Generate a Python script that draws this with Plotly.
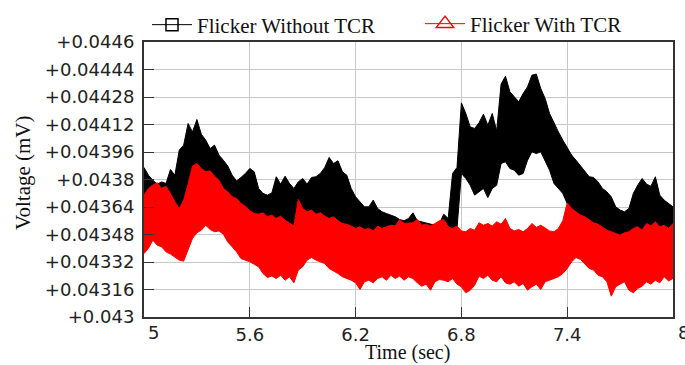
import plotly.graph_objects as go

# Sample times (s): envelope readings every 25 ms
time_s = [round(5.0 + 0.025 * i, 3) for i in range(121)]

# Flicker without TCR: upper / lower envelope of the noisy voltage (mV)
no_tcr_upper = [
    0.043870, 0.043825, 0.043796, 0.043773, 0.043786, 0.043777, 0.043858, 0.043825, 0.043971, 0.044000,
    0.044126, 0.044077, 0.044149, 0.044064, 0.044029, 0.043980, 0.044000, 0.043942, 0.043912, 0.043878,
    0.043825, 0.043792, 0.043812, 0.043835, 0.043864, 0.043845, 0.043748, 0.043719, 0.043709, 0.043722,
    0.043816, 0.043773, 0.043819, 0.043777, 0.043748, 0.043786, 0.043806, 0.043773, 0.043812, 0.043816,
    0.043835, 0.043870, 0.043928, 0.043893, 0.043909, 0.043845, 0.043825, 0.043748, 0.043699, 0.043670,
    0.043641, 0.043641, 0.043680, 0.043631, 0.043612, 0.043602, 0.043593, 0.043583, 0.043567, 0.043560,
    0.043573, 0.043606, 0.043560, 0.043554, 0.043548, 0.043540, 0.043534, 0.043544, 0.043598, 0.043573,
    0.043835, 0.043870, 0.044246, 0.044184, 0.044106, 0.044097, 0.044130, 0.044180, 0.044116, 0.044184,
    0.044083, 0.044355, 0.044401, 0.044310, 0.044281, 0.044252, 0.044300, 0.044339, 0.044407, 0.044413,
    0.044329, 0.044271, 0.044184, 0.044126, 0.044077, 0.044029, 0.043986, 0.043942, 0.043912, 0.043878,
    0.043845, 0.043816, 0.043812, 0.043786, 0.043748, 0.043728, 0.043699, 0.043641, 0.043622, 0.043612,
    0.043631, 0.043719, 0.043767, 0.043806, 0.043773, 0.043761, 0.043816, 0.043709, 0.043680, 0.043660,
    0.043641,
]
no_tcr_lower = [
    0.043631, 0.043670, 0.043689, 0.043703, 0.043670, 0.043683, 0.043641, 0.043592, 0.043553, 0.043602,
    0.043695, 0.043800, 0.043815, 0.043786, 0.043767, 0.043772, 0.043741, 0.043718, 0.043670, 0.043650,
    0.043621, 0.043611, 0.043582, 0.043567, 0.043540, 0.043524, 0.043520, 0.043528, 0.043505, 0.043515,
    0.043495, 0.043509, 0.043485, 0.043466, 0.043451, 0.043606, 0.043553, 0.043534, 0.043544, 0.043520,
    0.043528, 0.043509, 0.043495, 0.043505, 0.043482, 0.043466, 0.043462, 0.043451, 0.043437, 0.043447,
    0.043431, 0.043437, 0.043423, 0.043451, 0.043437, 0.043447, 0.043456, 0.043451, 0.043489, 0.043466,
    0.043470, 0.043470, 0.043489, 0.043456, 0.043462, 0.043451, 0.043466, 0.043482, 0.043489, 0.043447,
    0.043505, 0.043515, 0.043835, 0.043806, 0.043767, 0.043709, 0.043728, 0.043748, 0.043695, 0.043748,
    0.043767, 0.043893, 0.043903, 0.043864, 0.043854, 0.043825, 0.043835, 0.043912, 0.043961, 0.043951,
    0.043961, 0.043903, 0.043854, 0.043777, 0.043748, 0.043719, 0.043660, 0.043583, 0.043544, 0.043525,
    0.043505, 0.043496, 0.043486, 0.043476, 0.043466, 0.043457, 0.043447, 0.043437, 0.043432, 0.043437,
    0.043447, 0.043457, 0.043466, 0.043447, 0.043466, 0.043457, 0.043476, 0.043466, 0.043457, 0.043447,
    0.043466,
]

# Flicker with TCR: upper / lower envelope (mV)
tcr_upper = [
    0.043709, 0.043748, 0.043767, 0.043781, 0.043748, 0.043761, 0.043719, 0.043670, 0.043631, 0.043680,
    0.043773, 0.043878, 0.043893, 0.043864, 0.043845, 0.043850, 0.043819, 0.043796, 0.043748, 0.043728,
    0.043699, 0.043689, 0.043660, 0.043645, 0.043618, 0.043602, 0.043598, 0.043606, 0.043583, 0.043593,
    0.043573, 0.043587, 0.043563, 0.043544, 0.043529, 0.043684, 0.043631, 0.043612, 0.043622, 0.043598,
    0.043606, 0.043587, 0.043573, 0.043583, 0.043560, 0.043544, 0.043540, 0.043529, 0.043515, 0.043525,
    0.043509, 0.043515, 0.043501, 0.043529, 0.043515, 0.043525, 0.043534, 0.043529, 0.043567, 0.043544,
    0.043548, 0.043548, 0.043567, 0.043534, 0.043540, 0.043529, 0.043544, 0.043560, 0.043567, 0.043525,
    0.043515, 0.043529, 0.043501, 0.043496, 0.043515, 0.043505, 0.043548, 0.043534, 0.043544, 0.043529,
    0.043554, 0.043540, 0.043573, 0.043515, 0.043501, 0.043509, 0.043496, 0.043515, 0.043544, 0.043521,
    0.043534, 0.043515, 0.043501, 0.043496, 0.043515, 0.043560, 0.043664, 0.043631, 0.043612, 0.043593,
    0.043583, 0.043563, 0.043548, 0.043540, 0.043525, 0.043505, 0.043496, 0.043486, 0.043476, 0.043490,
    0.043496, 0.043515, 0.043525, 0.043505, 0.043544, 0.043529, 0.043554, 0.043525, 0.043534, 0.043515,
    0.043544,
]
tcr_lower = [
    0.043369, 0.043399, 0.043447, 0.043418, 0.043408, 0.043379, 0.043366, 0.043346, 0.043331, 0.043325,
    0.043393, 0.043457, 0.043490, 0.043505, 0.043534, 0.043509, 0.043496, 0.043501, 0.043482, 0.043437,
    0.043408, 0.043379, 0.043340, 0.043331, 0.043321, 0.043307, 0.043292, 0.043253, 0.043230, 0.043238,
    0.043224, 0.043243, 0.043214, 0.043234, 0.043199, 0.043273, 0.043292, 0.043331, 0.043346, 0.043331,
    0.043321, 0.043311, 0.043282, 0.043269, 0.043253, 0.043234, 0.043224, 0.043214, 0.043199, 0.043160,
    0.043205, 0.043214, 0.043199, 0.043224, 0.043234, 0.043214, 0.043243, 0.043224, 0.043238, 0.043214,
    0.043234, 0.043224, 0.043199, 0.043179, 0.043191, 0.043156, 0.043205, 0.043218, 0.043214, 0.043205,
    0.043224, 0.043191, 0.043176, 0.043141, 0.043156, 0.043185, 0.043238, 0.043224, 0.043243, 0.043214,
    0.043205, 0.043234, 0.043199, 0.043191, 0.043205, 0.043179, 0.043195, 0.043156, 0.043176, 0.043191,
    0.043160, 0.043205, 0.043214, 0.043224, 0.043234, 0.043253, 0.043282, 0.043321, 0.043346, 0.043335,
    0.043307, 0.043282, 0.043273, 0.043243, 0.043234, 0.043205, 0.043121, 0.043176, 0.043191, 0.043205,
    0.043156, 0.043141, 0.043166, 0.043179, 0.043205, 0.043191, 0.043214, 0.043199, 0.043234, 0.043210,
    0.043224,
]

x_ticks = [5.0, 5.6, 6.2, 6.8, 7.4, 8.0]
x_tick_text = ["", "5.6", "6.2", "6.8", "7.4", ""]
y_ticks = [0.043, 0.04316, 0.04332, 0.04348, 0.04364, 0.0438,
           0.04396, 0.04412, 0.04428, 0.04444, 0.0446]
y_tick_text = ["+0.043", "+0.04316", "+0.04332", "+0.04348", "+0.04364", "+0.0438",
               "+0.04396", "+0.04412", "+0.04428", "+0.04444", "+0.0446"]

series = [
    ("Flicker Without TCR", no_tcr_upper, no_tcr_lower, "#000000", "square-open", 12, "legend"),
    ("Flicker With TCR", tcr_upper, tcr_lower, "#ff0000", "triangle-up-open", 15, "legend2"),
]

fig = go.Figure()
for name, upper, lower, color, symbol, msize, leg in series:
    fig.add_trace(go.Scatter(
        x=time_s, y=upper, mode="lines", line=dict(color=color, width=1),
        showlegend=False, hoverinfo="skip",
    ))
    fig.add_trace(go.Scatter(
        x=time_s, y=lower, mode="lines", line=dict(color=color, width=1),
        fill="tonexty", fillcolor=color, showlegend=False, hoverinfo="skip",
    ))
    # legend entry: line with open marker
    fig.add_trace(go.Scatter(
        x=[None], y=[None], mode="lines+markers", name=name, legend=leg,
        line=dict(color=color, width=1),
        marker=dict(symbol=symbol, size=msize, color=color, line=dict(width=1.5, color=color)),
    ))

tick_font = dict(family="DejaVu Sans", size=18, color="#222222")
serif = "Liberation Serif"

fig.update_xaxes(
    range=[5, 8], tickvals=x_ticks, ticktext=x_tick_text,
    ticks="inside", ticklen=10, tickcolor="#333333", tickwidth=1,
    showgrid=True, gridcolor="#c8c8c8", gridwidth=1,
    showline=True, linecolor="#333333", linewidth=2, mirror=True,
    tickfont=tick_font, zeroline=False,
)
fig.update_yaxes(
    range=[0.043, 0.0446], tickvals=y_ticks, ticktext=y_tick_text,
    ticks="inside", ticklen=10, tickcolor="#333333", tickwidth=1,
    showgrid=True, gridcolor="#c8c8c8", gridwidth=1,
    showline=True, linecolor="#333333", linewidth=2, mirror=True,
    tickfont=tick_font, zeroline=False, ticklabelstandoff=4,
)

legend_common = dict(
    orientation="h", bgcolor="rgba(0,0,0,0)", borderwidth=0,
    font=dict(family=serif, size=21, color="#111111"),
    xref="container", yref="container", xanchor="left", yanchor="middle",
    itemwidth=40,
)

fig.update_layout(
    width=685, height=365,
    margin=dict(l=144, r=12, t=42, b=48, autoexpand=False),
    plot_bgcolor="white", paper_bgcolor="white",
    legend=dict(x=147 / 685, y=1 - 25 / 365, **legend_common),
    legend2=dict(x=420 / 685, y=1 - 24 / 365, **legend_common),
    annotations=[
        dict(text="Voltage (mV)", xref="paper", yref="paper",
             x=(23 - 144) / 529, y=(317 - 173) / 275, textangle=-90,
             showarrow=False, xanchor="center", yanchor="middle",
             font=dict(family=serif, size=21, color="#111111")),
        dict(text="Time (sec)", xref="paper", yref="paper",
             x=(407 - 144) / 529, y=(317 - 352) / 275,
             showarrow=False, xanchor="center", yanchor="middle",
             font=dict(family=serif, size=20, color="#111111")),
        dict(text="5", xref="paper", yref="paper", x=(146 - 144) / 529,
             y=(317 - 332) / 275, showarrow=False, xanchor="left", yanchor="middle",
             font=tick_font),
        dict(text="8", xref="paper", yref="paper", x=(676 - 144) / 529,
             y=(317 - 332) / 275, showarrow=False, xanchor="left", yanchor="middle",
             font=tick_font),
    ],
)

fig.write_html("out.html")
